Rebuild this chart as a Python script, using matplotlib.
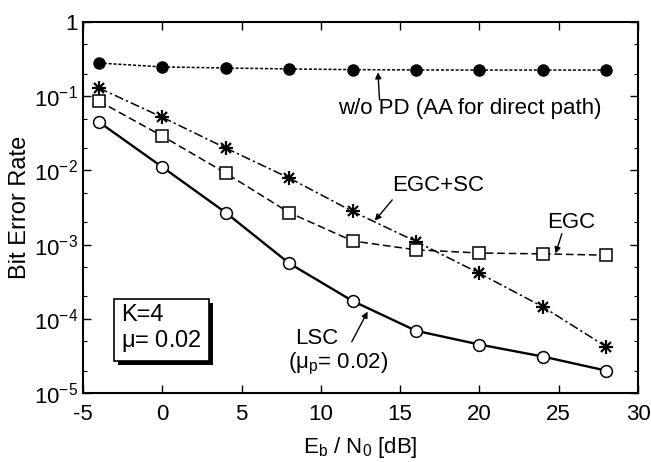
import numpy as np
import matplotlib.pyplot as plt
import matplotlib.patheffects as pe
from matplotlib.ticker import LogLocator, FixedLocator, NullFormatter

plt.rcParams['font.family'] = ['Liberation Sans', 'DejaVu Sans']
plt.rcParams['mathtext.fontset'] = 'custom'
plt.rcParams['mathtext.rm'] = 'Liberation Sans'
plt.rcParams['mathtext.it'] = 'Liberation Sans'
plt.rcParams['axes.unicode_minus'] = False

# Eb/N0 sweep and BER curves
snr_db = [-4, 0, 4, 8, 12, 16, 20, 24, 28]
ber_no_pd = [0.28, 0.248, 0.24, 0.233, 0.228, 0.226, 0.225, 0.225, 0.225]
ber_egc_sc = [0.129, 0.052, 0.020, 0.0079, 0.0028, 0.0011, 4.1e-4, 1.45e-4, 4.2e-5]
ber_egc = [0.086, 0.029, 0.0092, 0.0027, 0.00112, 8.5e-4, 7.7e-4, 7.5e-4, 7.2e-4]
ber_lsc = [0.045, 0.0111, 0.0027, 5.6e-4, 1.74e-4, 6.9e-5, 4.5e-5, 3.1e-5, 2.0e-5]

fig = plt.figure(figsize=(6.51, 4.62), dpi=100)
ax = fig.add_axes([83 / 651, 1 - 393 / 462, (638 - 83) / 651, (393 - 22) / 462])

ax.plot(snr_db, ber_no_pd, color='black', linestyle=(0, (2, 1.2)), lw=1.1,
        marker='o', ms=8, mfc='black', mec='black')
# EGC+SC: dash-dot line with asterisk markers (plus and cross overlaid)
ax.plot(snr_db, ber_egc_sc, color='black', linestyle=(0, (6, 2, 1.5, 2)), lw=1.1)
ax.plot(snr_db, ber_egc_sc, linestyle='none', marker='+', ms=10, mew=1.6, mec='black')
ax.plot(snr_db, ber_egc_sc, linestyle='none', marker='x', ms=7.5, mew=1.6, mec='black')
ax.plot(snr_db, ber_egc, color='black', linestyle=(0, (5, 2.5)), lw=1.1,
        marker='s', ms=8, mfc='white', mec='black', mew=1.1)
ax.plot(snr_db, ber_lsc, color='black', linestyle='-', lw=1.7,
        marker='o', ms=8.5, mfc='white', mec='black', mew=1.1)

ax.set_yscale('log')
ax.set_xlim(-5, 30)
ax.set_ylim(1e-5, 1)
ax.xaxis.set_major_locator(FixedLocator([-5, 0, 5, 10, 15, 20, 25, 30]))
ax.yaxis.set_major_locator(FixedLocator([1e-5, 1e-4, 1e-3, 1e-2, 1e-1, 1]))
ax.yaxis.set_minor_locator(LogLocator(base=10, subs=(2, 5), numticks=20))
ax.yaxis.set_minor_formatter(NullFormatter())
ax.set_yticklabels([r'$10^{-5}$', r'$10^{-4}$', r'$10^{-3}$', r'$10^{-2}$', r'$10^{-1}$', '1'])
ax.tick_params(which='both', direction='in', top=True, right=True, labelsize=16)
ax.tick_params(which='major', length=6, width=1)
ax.tick_params(which='minor', length=3, width=0.8)
ax.tick_params(axis='x', pad=8)
for s in ax.spines.values():
    s.set_linewidth(1.5)

ax.set_ylabel('Bit Error Rate', fontsize=17, labelpad=2)
ax.set_xlabel(r'E$_\mathregular{b}$ / N$_\mathregular{0}$ [dB]', fontsize=16, labelpad=7)

arrow = dict(arrowstyle='-|>', color='black', lw=1, mutation_scale=9, shrinkA=0, shrinkB=0)
fs = 16

ax.text(11.1, 0.069, 'w/o PD (AA for direct path)', fontsize=fs, ha='left', va='center')
ax.annotate('', xy=(13.6, 0.21), xytext=(13.7, 0.089), arrowprops=arrow)

ax.text(14.5, 0.0063, 'EGC+SC', fontsize=fs, ha='left', va='center')
ax.annotate('', xy=(13.4, 0.0021), xytext=(14.5, 0.004), arrowprops=arrow)

ax.text(24.3, 0.002, 'EGC', fontsize=fs, ha='left', va='center')
ax.annotate('', xy=(24.8, 7.6e-4), xytext=(25.2, 1.4e-3), arrowprops=arrow)

ax.text(8.4, 5.5e-5, 'LSC', fontsize=fs, ha='left', va='center')
ax.text(7.9, 2.5e-5, r'($\mathregular{\mu_p}$= 0.02)', fontsize=fs, ha='left', va='center')
ax.annotate('', xy=(12.95, 1.25e-4), xytext=(11.95, 4.9e-5), arrowprops=arrow)

# parameter box with a drop shadow
box = ax.text(-2.6, 7.3e-5, 'K=4\n' + r'$\mathregular{\mu}$= 0.02', fontsize=17,
              ha='left', va='center', linespacing=1.1,
              bbox=dict(boxstyle='square,pad=0.3', fc='white', ec='black', lw=1.2))
box.get_bbox_patch().set_path_effects([
    pe.SimplePatchShadow(offset=(3, -3), shadow_rgbFace='black', alpha=1),
    pe.Normal()])

fig.savefig('out.png', dpi=100)
